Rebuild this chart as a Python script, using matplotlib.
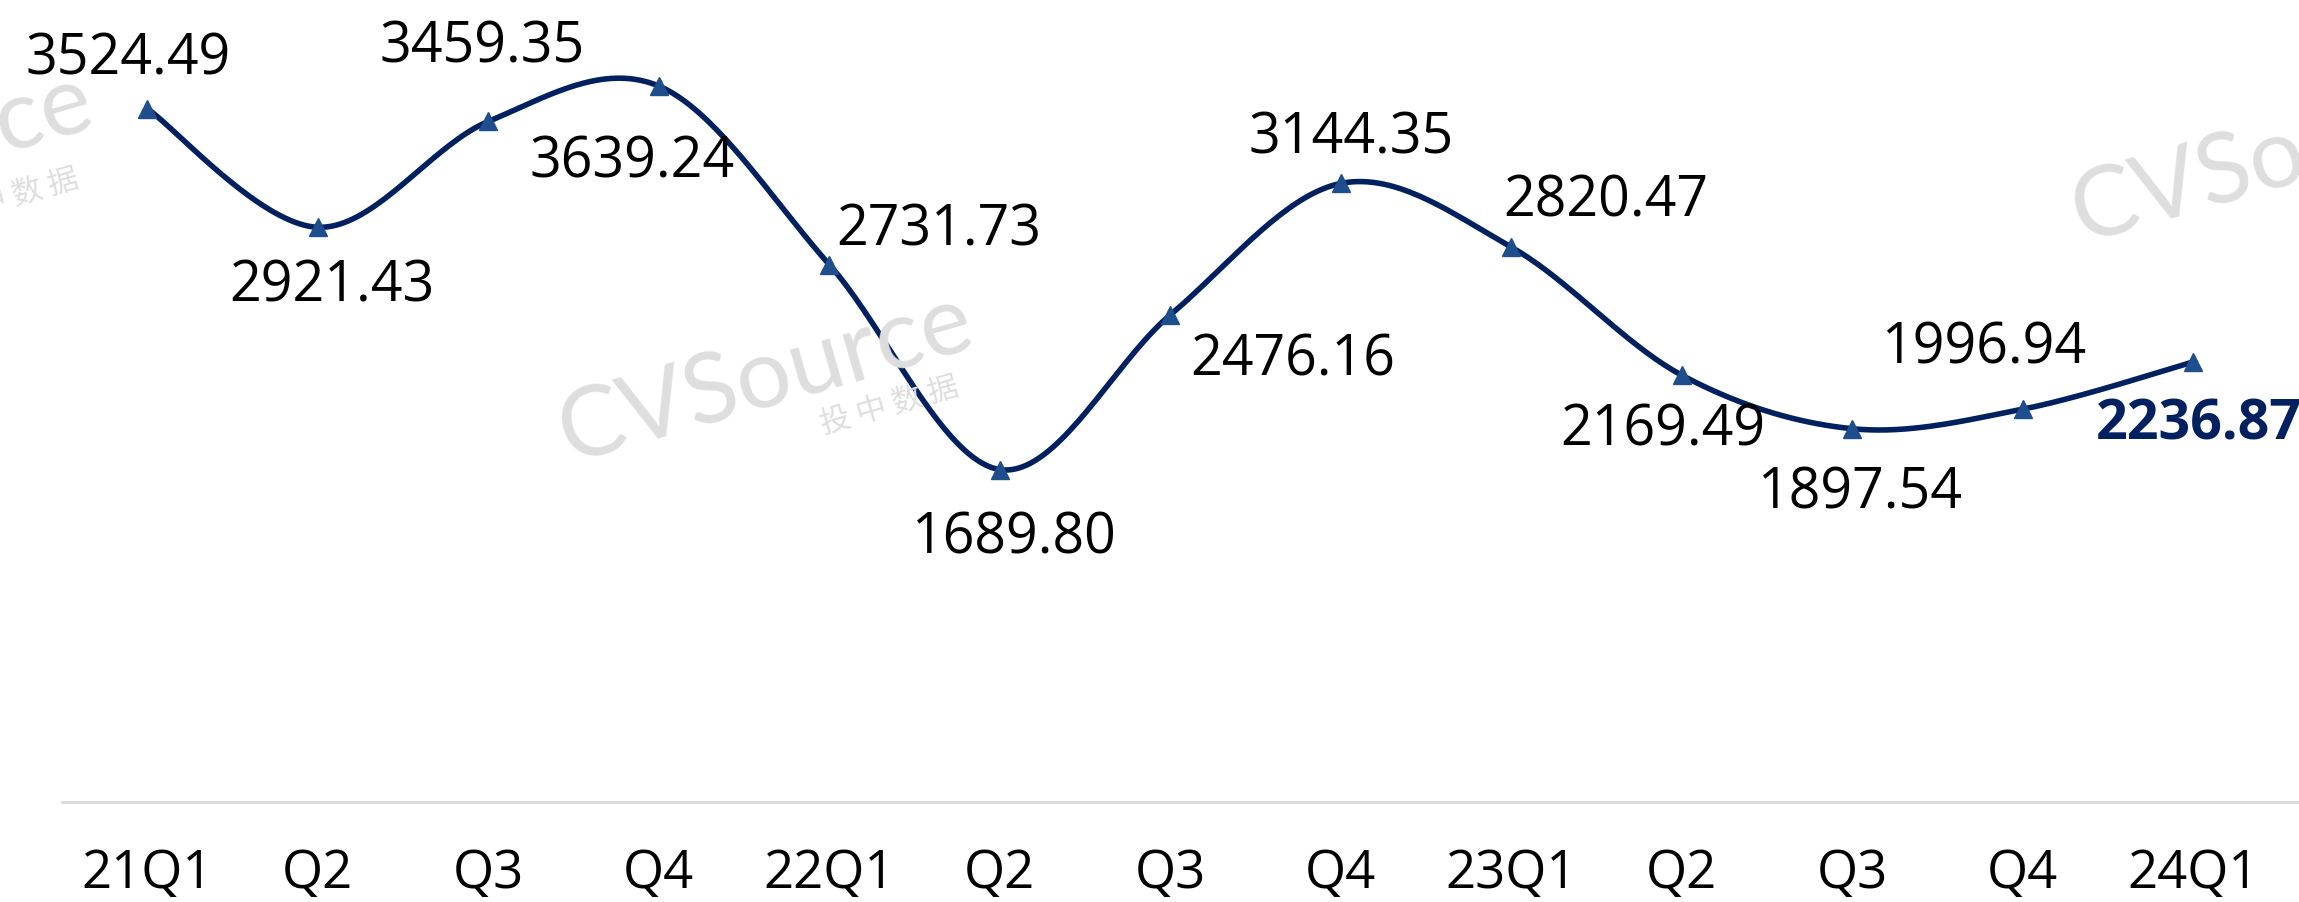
import numpy as np
import matplotlib
matplotlib.use("Agg")
import matplotlib.pyplot as plt

# dados do grafico
trimestres = ["21Q1", "Q2", "Q3", "Q4", "22Q1", "Q2", "Q3", "Q4", "23Q1", "Q2", "Q3", "Q4", "24Q1"]
valores = [3524.49, 2921.43, 3459.35, 3639.24, 2731.73, 1689.80, 2476.16,
           3144.35, 2820.47, 2169.49, 1897.54, 1996.94, 2236.87]

# deslocamento dos rotulos em pixels (x, y para cima)
desloc = [(-19, 50), (14, -59), (-6, 74), (-27, -76), (109, 35), (14, -68), (122, -45),
          (10, 45), (94, 46), (-19, -55), (7, -64), (-39, 61), (-97, -62)]

cor_linha = "#002060"
cor_marca = "#1F4E8C"

plt.rcParams['font.family'] = ['Open Sans', 'DejaVu Sans']

fig = plt.figure(figsize=(22.99, 9.03), dpi=100)
ax = fig.add_axes([0.027, 0.1107, 0.973, 0.8715])

x = np.arange(len(valores))
y = np.array(valores)


# curva suavizada estilo excel (catmull-rom / bezier)
def suavizar(xs, ys, n=40):
    px, py = [], []
    m = len(xs)
    for i in range(m - 1):
        x0, y0 = (xs[i - 1], ys[i - 1]) if i > 0 else (xs[i], ys[i])
        x1, y1 = xs[i], ys[i]
        x2, y2 = xs[i + 1], ys[i + 1]
        x3, y3 = (xs[i + 2], ys[i + 2]) if i + 2 < m else (xs[i + 1], ys[i + 1])
        c1x, c1y = x1 + (x2 - x0) / 6, y1 + (y2 - y0) / 6
        c2x, c2y = x2 - (x3 - x1) / 6, y2 - (y3 - y1) / 6
        t = np.linspace(0, 1, n)
        b0, b1, b2, b3 = (1 - t) ** 3, 3 * t * (1 - t) ** 2, 3 * t ** 2 * (1 - t), t ** 3
        px.extend(b0 * x1 + b1 * c1x + b2 * c2x + b3 * x2)
        py.extend(b0 * y1 + b1 * c1y + b2 * c2y + b3 * y2)
    return np.array(px), np.array(py)


sx, sy = suavizar(x, y)
ax.plot(sx, sy, color=cor_linha, lw=4, solid_capstyle='round', zorder=3)
ax.plot(x, y, linestyle='none', marker='^', markersize=13, color=cor_marca, zorder=4)

for i, v in enumerate(valores):
    dx, dy = desloc[i]
    ultimo = i == len(valores) - 1
    ax.annotate(f"{v:.2f}", (x[i], v), xytext=(dx, dy), textcoords='offset pixels',
                ha='left' if ultimo else 'center', va='center', fontsize=40,
                color=cor_linha if ultimo else 'black',
                fontweight='bold' if ultimo else 'normal', zorder=5, annotation_clip=False)

ax.set_xlim(-0.5, 12.62)
ax.set_ylim(0, 4000)
ax.set_yticks([])
ax.set_xticks(x)
ax.set_xticklabels(trimestres, fontsize=38)
ax.tick_params(axis='x', length=0, pad=32)
for s in ['top', 'right', 'left']:
    ax.spines[s].set_visible(False)
ax.spines['bottom'].set_color('#D9D9D9')
ax.spines['bottom'].set_linewidth(2)

# marca d'agua
cinza = '#DEDEDE'
for (cx, cy), (zx, zy) in [((-114, 158), (10, 198)), ((766, 378), (890, 406)), ((2279, 158), (2403, 186))]:
    fig.text(cx / 2299, 1 - cy / 903, "CVSource", fontsize=70, color=cinza, rotation=16,
             ha='center', va='center', family=['Lato', 'DejaVu Sans'], zorder=0)
    fig.text(zx / 2299, 1 - zy / 903, "投 中 数 据", fontsize=22, color=cinza, rotation=16,
             ha='center', va='center', family=['Noto Sans CJK SC', 'DejaVu Sans'], zorder=0)

fig.savefig("out.png", dpi=100)
